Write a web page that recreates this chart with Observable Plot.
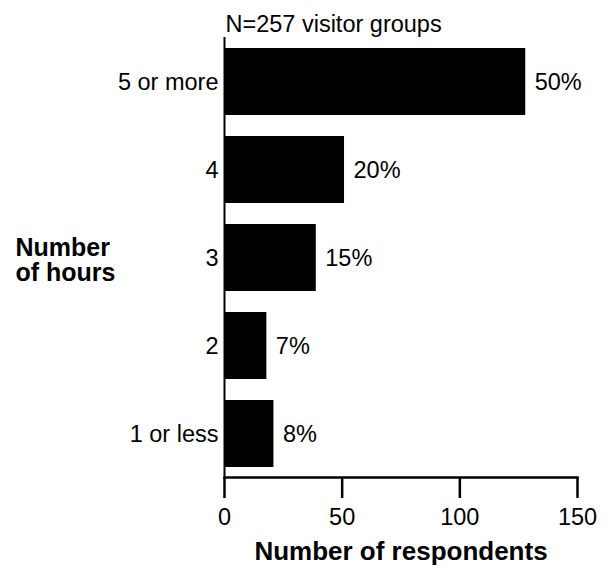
<!DOCTYPE html>
<html><head><meta charset="utf-8">
<script src="https://cdn.jsdelivr.net/npm/d3@7"></script>
<script src="https://cdn.jsdelivr.net/npm/@observablehq/plot@0.6"></script>
<style>body{margin:0;background:#fff}</style>
</head><body><div id="chart"></div>
<script>
const categories = ["5 or more", "4", "3", "2", "1 or less"];
const respondents = [128, 51, 39, 18, 21];
const percentLabels = ["50%", "20%", "15%", "7%", "8%"];
const xTicks = [0, 50, 100, 150];
const subtitle = "N=257 visitor groups";
const xLabel = "Number of respondents";
const yLabel = "Number\nof hours";

const data = categories.map((c, i) => ({hours: c, n: respondents[i], pct: percentLabels[i]}));
const font = "'Liberation Sans', Arial, Helvetica, sans-serif";

const chart = Plot.plot({
  width: 607, height: 569,
  marginLeft: 224, marginRight: 30, marginTop: 37, marginBottom: 92,
  style: {fontFamily: font, color: "#000", background: "#fff"},
  x: {domain: [0, 150]},
  y: {domain: categories, paddingInner: 0.24, paddingOuter: 0.12},
  marks: [
    Plot.barX(data, {x: "n", y: "hours", fill: "#000"}),
    Plot.text(data, {x: "n", y: "hours", text: "pct", textAnchor: "start", dx: 9, fontSize: 23.5}),
    Plot.ruleX([0], {strokeWidth: 2}),
    Plot.frame({anchor: "bottom", strokeWidth: 2.5}),
    Plot.axisX({ticks: xTicks, tickSize: 21, tickPadding: 10, fontSize: 23.5, label: null, strokeWidth: 2.5}),
    Plot.axisY({tickSize: 0, tickPadding: 6, fontSize: 23.5, label: null}),
    Plot.text([subtitle], {frameAnchor: "top-left", textAnchor: "start", dx: 1, dy: -22, fontSize: 23.5}),
    Plot.text([xLabel], {frameAnchor: "bottom", dy: 82, fontSize: 26, fontWeight: "bold"}),
    Plot.text([yLabel], {frameAnchor: "left", textAnchor: "start", dx: -209, dy: 3, fontSize: 25, fontWeight: "bold", lineHeight: 1})
  ]
});
document.getElementById("chart").append(chart);
</script>
</body></html>
